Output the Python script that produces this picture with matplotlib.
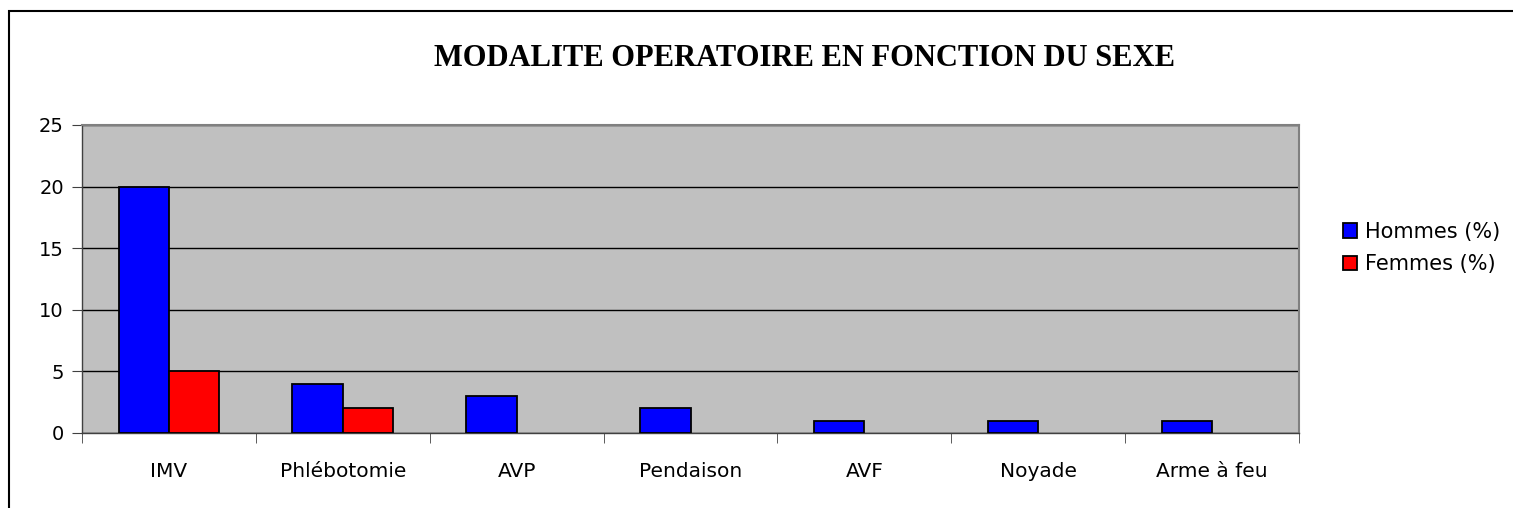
import numpy as np
import matplotlib.pyplot as plt
from matplotlib.patches import Rectangle

categories = ['IMV', 'Phlébotomie', 'AVP', 'Pendaison', 'AVF', 'Noyade', 'Arme à feu']
hommes = [20, 4, 3, 2, 1, 1, 1]
femmes = [5, 2, 0, 0, 0, 0, 0]

plt.rcParams['font.family'] = ['DejaVu Sans']

fig = plt.figure(figsize=(15.13, 5.08), dpi=100)
ax = fig.add_axes([82 / 1513, 1 - 433 / 508, (1299 - 82) / 1513, (433 - 125) / 508])

x = np.arange(len(categories))
w = 0.29
ax.bar(x - w / 2, hommes, w, color='#0000ff', edgecolor='black', linewidth=1.3, label='Hommes (%)', zorder=3)
# barres a zero non dessinees
xf = [xi for xi, v in zip(x, femmes) if v > 0]
vf = [v for v in femmes if v > 0]
ax.bar(np.array(xf) + w / 2, vf, w, color='#ff0000', edgecolor='black', linewidth=1.3, label='Femmes (%)', zorder=3)

ax.set_facecolor('#c0c0c0')
ax.set_xlim(-0.5, len(categories) - 0.5)
ax.set_ylim(0, 25)
ax.set_yticks([0, 5, 10, 15, 20, 25])
ax.yaxis.grid(True, color='black', linewidth=1, zorder=1)
ax.set_axisbelow(True)

ax.set_xticks(x)
ax.set_xticklabels(categories)
ax.set_xticks(np.arange(len(categories) + 1) - 0.5, minor=True)
ax.tick_params(axis='x', which='major', length=0, pad=21, labelsize=14.5)
ax.tick_params(axis='x', which='minor', length=7, color='#404040')
ax.tick_params(axis='y', length=7, labelsize=14, pad=6, color='#404040')

for s in ['top', 'right']:
    ax.spines[s].set_color('#808080')
    ax.spines[s].set_linewidth(1.5)
for s in ['left', 'bottom']:
    ax.spines[s].set_color('#404040')
    ax.spines[s].set_linewidth(1)

fig.text(804 / 1513, 1 - 59 / 508, 'MODALITE OPERATOIRE EN FONCTION DU SEXE',
         family=['Liberation Serif', 'DejaVu Serif'], fontsize=22, fontweight='bold',
         ha='center', va='center')

leg = fig.legend(loc='center left', bbox_to_anchor=(1324 / 1513, 1 - 248 / 508),
                 frameon=False, fontsize=15, handlelength=0.7, handleheight=0.7,
                 handletextpad=0.35, labelspacing=0.6)

fig.patches.append(Rectangle((9 / 1513, -0.1), 1.2, 1 - 11 / 508 + 0.1, transform=fig.transFigure,
                             fill=False, edgecolor='black', linewidth=1.5))

fig.savefig('out.png', dpi=100)
